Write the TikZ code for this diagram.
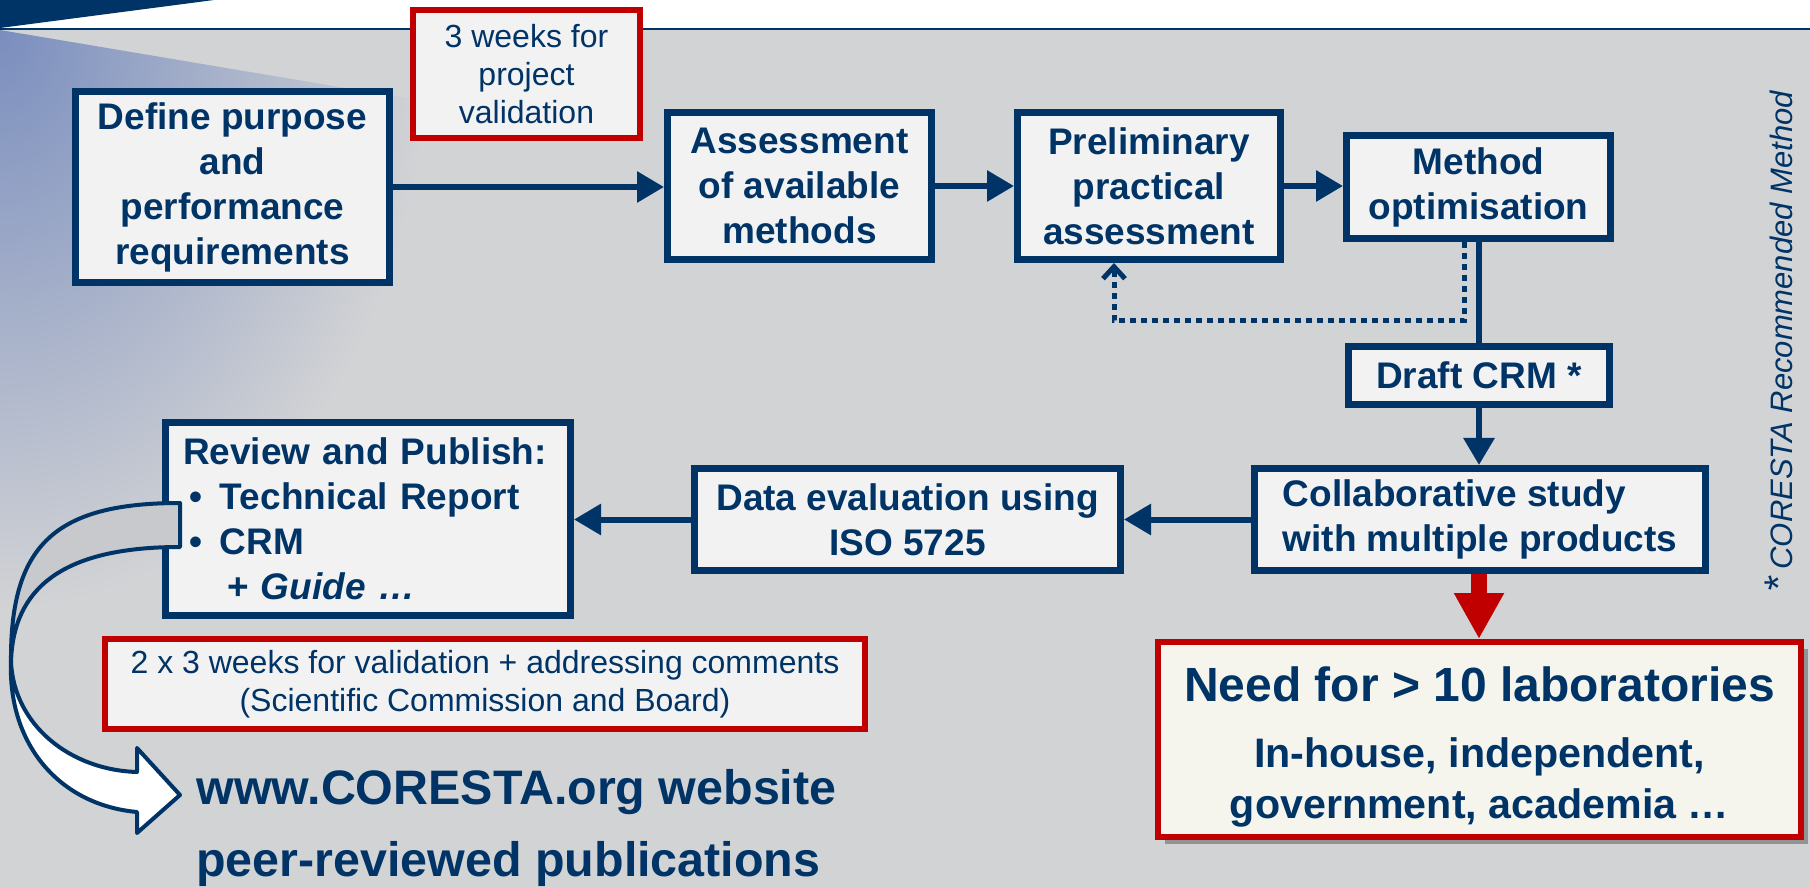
\documentclass[tikz,border=0pt]{standalone}
\usepackage{fontspec}
\setmainfont{Liberation Sans}
\usetikzlibrary{arrows.meta,shadows,calc}
\definecolor{navy}{RGB}{0,51,102}
\definecolor{cred}{RGB}{192,0,0}
\definecolor{bg}{RGB}{210,211,213}
\definecolor{boxfill}{RGB}{242,242,242}
\definecolor{creamfill}{RGB}{245,245,238}
\definecolor{gradblue}{RGB}{122,142,190}
\definecolor{tailgray}{RGB}{200,201,204}
\begin{document}
\begin{tikzpicture}[x=0.5pt,y=-0.5pt,
 navybox/.style={draw=navy, line width=3.5pt, fill=boxfill, text=navy, font=\fontsize{18.5}{22.5}\selectfont\bfseries, align=center, inner sep=0pt},
 redbox/.style={draw=cred, line width=3.2pt, fill=boxfill, text=navy, align=center, inner sep=0pt, font=\fontsize{16}{19}\selectfont},
 arr/.style={draw=navy, line width=3pt, -{Triangle[length=13.5pt,width=15pt]}},
 link/.style={draw=navy, line width=3pt},
 dotlink/.style={draw=navy, line width=2.5pt, dash pattern=on 3pt off 2.5pt, -{Straight Barb[length=6pt,width=11pt]}},
 redarr/.style={draw=cred, line width=8pt, -{Triangle[length=23pt,width=23.5pt]}},
 plain/.style={text=navy, inner sep=0pt},
 bigarrow/.style={draw=navy, line width=2pt, line join=round}
]
\useasboundingbox (0,0) rectangle (1810,887);
% background and header
\fill[bg] (0,29) rectangle (1810,887);
\fill[white] (0,0) rectangle (1810,29);
\begin{scope}
\clip (0,30) -- (500,114) -- (500,887) -- (0,887) -- cycle;
\shade[inner color=gradblue, outer color=bg] (0,30) ellipse[x radius=430, y radius=580];
\end{scope}
\fill[navy] (0,0) -- (214,0) -- (0,28) -- cycle;
\draw[navy, line width=1.2pt] (0,29) -- (1810,29);

% boxes
\node[navybox, minimum width=157pt, minimum height=95.5pt] (b1) at (232.5,187) {Define purpose\\and\\performance\\requirements};
\node[redbox, minimum width=113.3pt, minimum height=63.8pt] (r1) at (526.5,74) {3 weeks for\\project\\validation};
\node[navybox, minimum width=132pt, minimum height=73.5pt] (b2) at (799.5,186) {Assessment\\of available\\methods};
\node[navybox, minimum width=131.5pt, minimum height=73.5pt] (b3) at (1149,186) {Preliminary\\practical\\assessment};
\node[navybox, minimum width=132pt, minimum height=51.5pt] (b4) at (1478.5,187) {Method\\optimisation};
\node[navybox, minimum width=130.5pt, minimum height=29pt] (draft) at (1479,375.5) {Draft CRM *};
\node[navybox, align=left, minimum width=225.5pt, minimum height=51pt] (collab) at (1480,519.5) {Collaborative study\\with multiple products};
\node[navybox, minimum width=213pt, minimum height=51pt] (data) at (907.5,519.5) {Data evaluation using\\ISO 5725};
\node[navybox, align=left, minimum width=202.5pt, minimum height=96.5pt, text width=185pt, inner xsep=8.75pt] (review) at (368,519) {Review and Publish:\\
\makebox[18.5pt][l]{\hspace{3pt}\textbullet}Technical Report\\
\makebox[18.5pt][l]{\hspace{3pt}\textbullet}CRM\\
\hspace{22pt}+ \textit{Guide …}};
\node[redbox, minimum width=379.8pt, minimum height=44.8pt] (r2) at (485,684) {2 x 3 weeks for validation + addressing comments\\(Scientific Commission and Board)};
\node[draw=cred, line width=3.2pt, fill=creamfill, minimum width=321.3pt, minimum height=97.3pt, drop shadow={shadow xshift=3.5pt, shadow yshift=-3.5pt, opacity=0.4, fill=black!80}] (need) at (1479.5,739.5) {};
\node[plain, font=\fontsize{24}{28}\selectfont\bfseries] (needt) at (1479.5,684) {Need for > 10 laboratories};
\node[plain, font=\fontsize{20.6}{25.5}\selectfont\bfseries, align=center] (needs) at (1479.5,782) {In-house, independent,\\government, academia …};

% connectors
\draw[arr] (b1.east) -- (b1.east -| b2.west);
\draw[arr] (b2.east) -- (b3.west);
\draw[arr] (b3.east) -- (b3.east -| b4.west);
\coordinate (d1) at (1464,321);
\coordinate (d2) at (1114,321);
\draw[dotlink] (b4.south -| d1) -- (d1) -- (d2) -- (d2 |- b3.south);
\draw[link] (b4.south) -- (b4.south |- draft.north);
\draw[arr] (draft.south) -- (draft.south |- collab.north);
\draw[arr] (collab.west) -- (data.east);
\draw[arr] (data.west) -- (data.west -| review.east);
\draw[redarr] (collab.south -| draft.south) -- (draft.south |- need.north);

% curved block arrow
\filldraw[bigarrow, fill=tailgray] (180,503) .. controls (55,503) and (10,545) .. (11,662)
  .. controls (13,590) and (60,547) .. (180,547) -- cycle;
\filldraw[bigarrow, fill=white] (11,662) .. controls (8,745) and (60,805) .. (137,812)
  -- (137,833) -- (180,795) -- (137,748) -- (137,772)
  .. controls (70,770) and (14,725) .. (11,662) -- cycle;

% texts
\node[plain, anchor=west, font=\fontsize{24.2}{28}\selectfont\bfseries] (web) at (196,792) {www.CORESTA.org website};
\node[plain, anchor=west, font=\fontsize{24.2}{28}\selectfont\bfseries] (peer) at (196,864) {peer-reviewed publications};
\node[plain, rotate=90, anchor=base, font=\fontsize{15.5}{17}\selectfont\itshape] (note) at (1792,342) {{\fontsize{20}{20}\selectfont *}\hspace{4pt}CORESTA Recommended Method};
\end{tikzpicture}
\end{document}
